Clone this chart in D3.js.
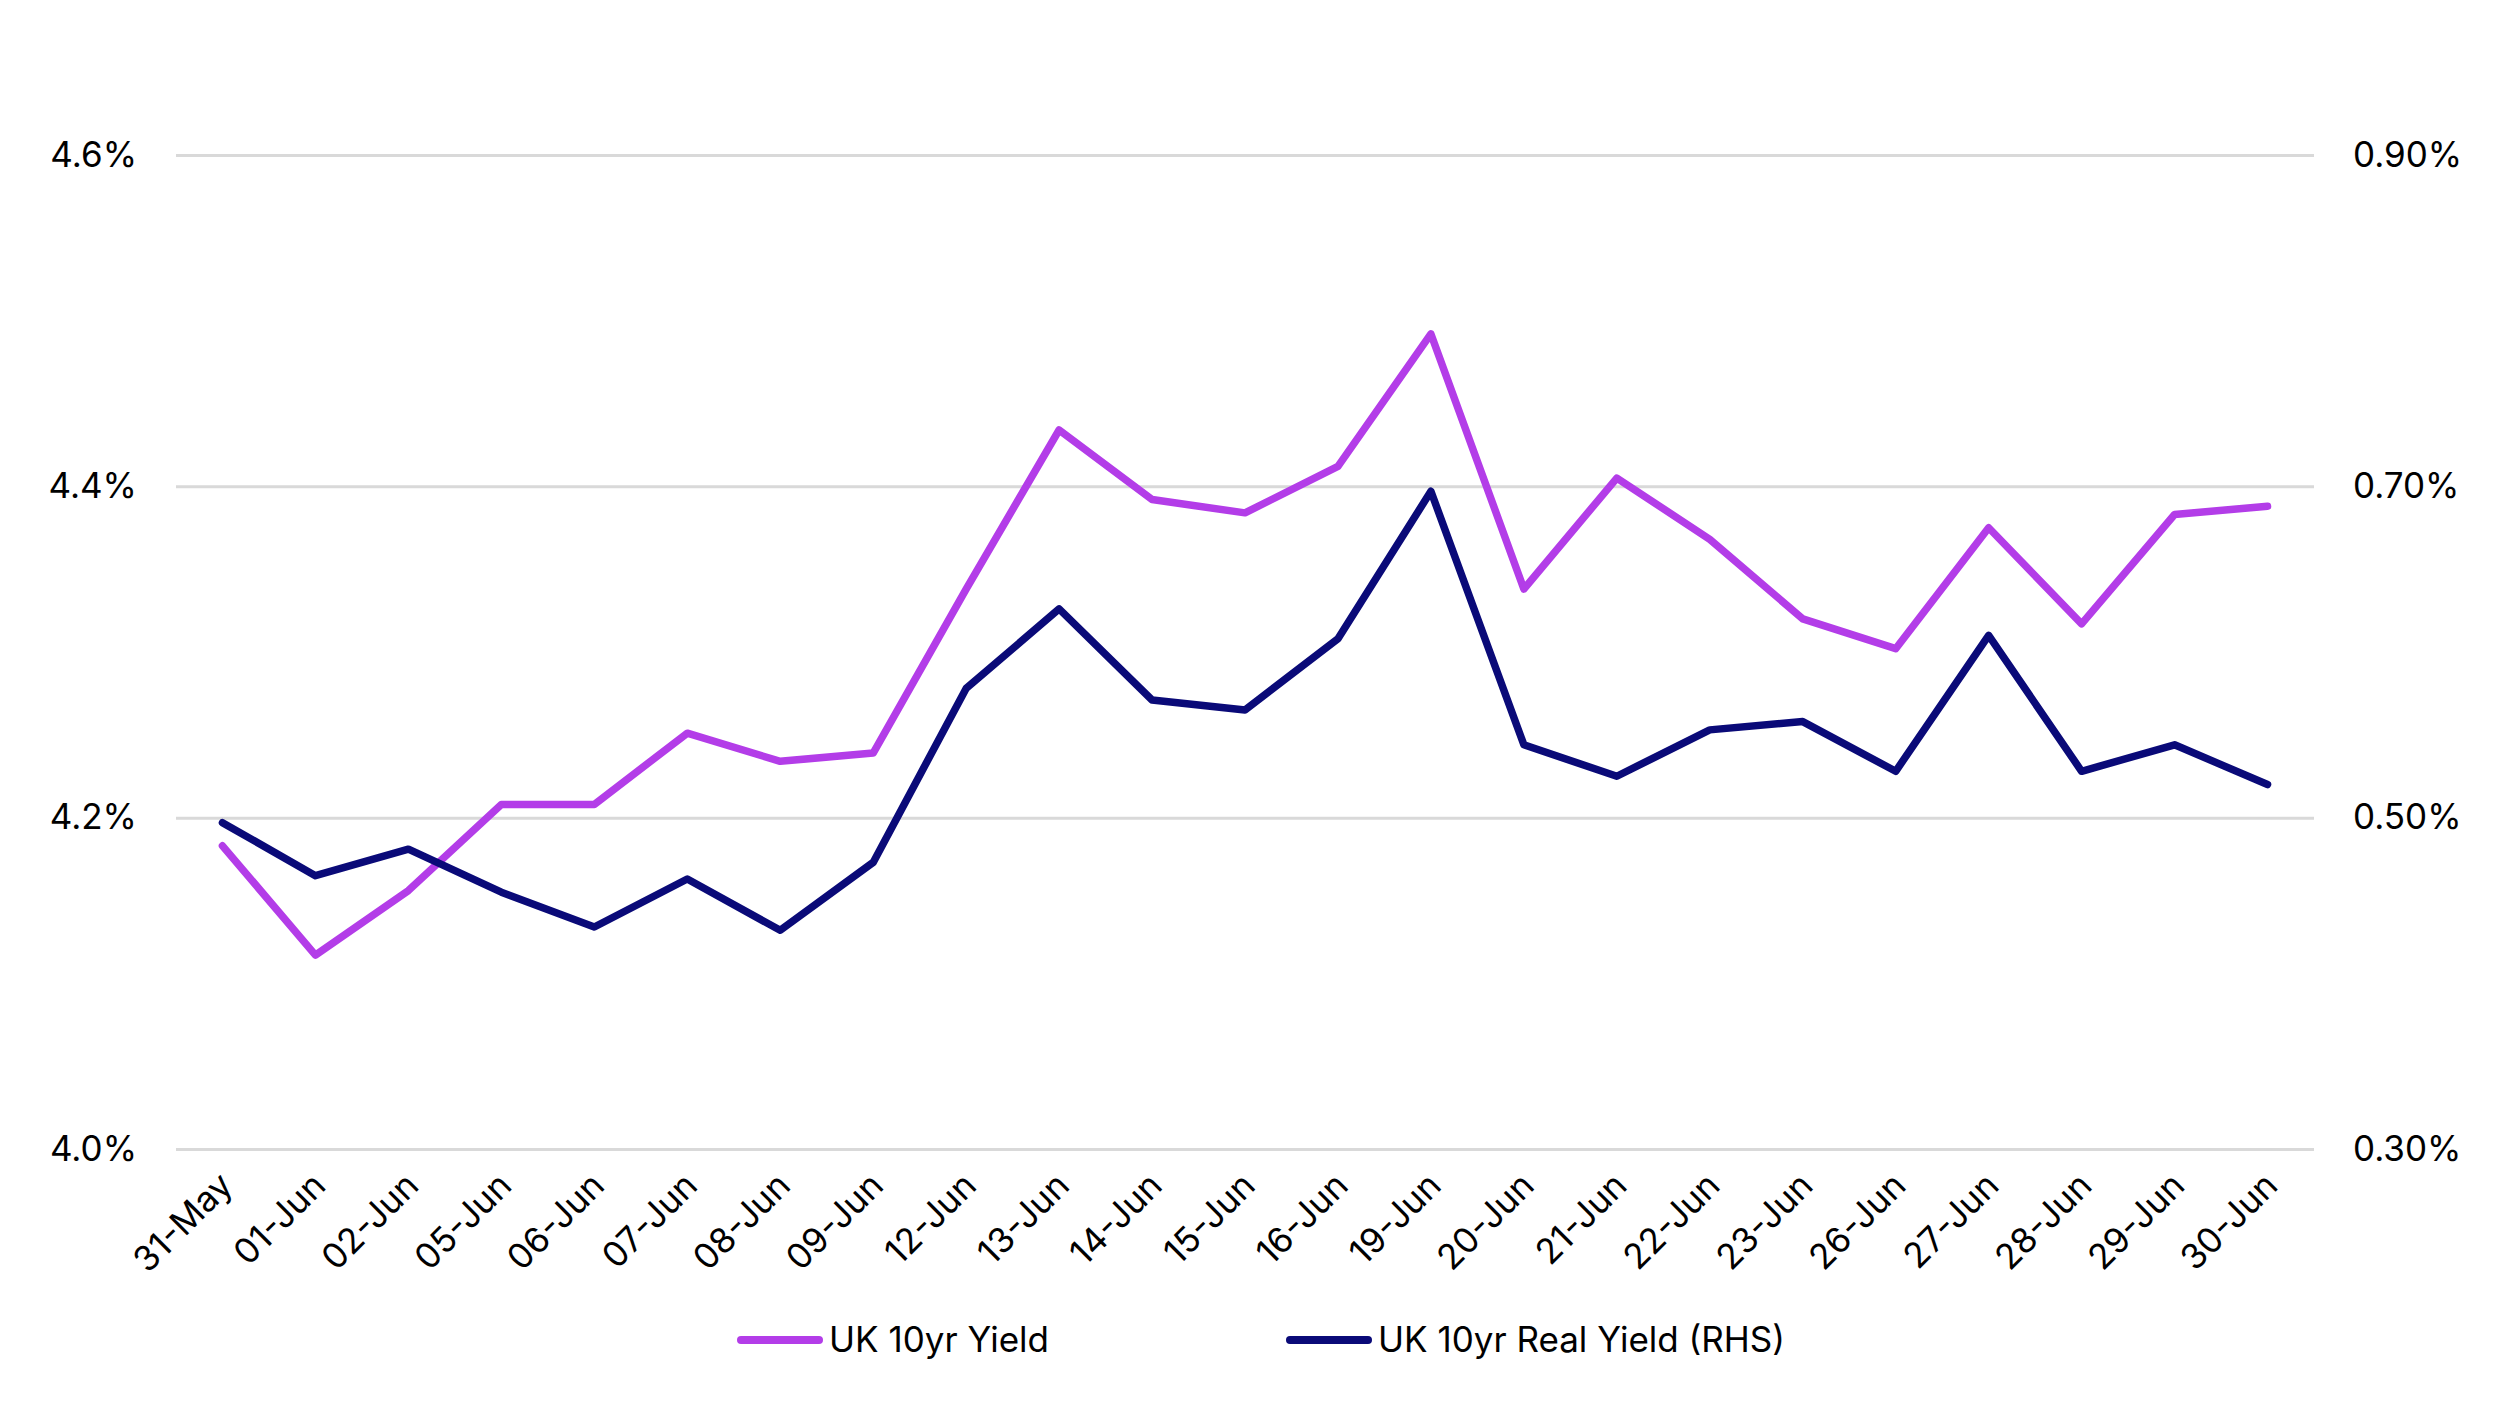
<!DOCTYPE html>
<html>
<head>
<meta charset="utf-8">
<script src="https://cdn.jsdelivr.net/npm/d3@7"></script>
<style>
  body { margin: 0; background: #fff; }
  text { font-family: Inter, "Noto Sans", sans-serif; fill: #000; }
</style>
</head>
<body>
<script>
// categorias (dias de cotizacion)
var fechas = ["31-May", "01-Jun", "02-Jun", "05-Jun", "06-Jun", "07-Jun", "08-Jun", "09-Jun",
  "12-Jun", "13-Jun", "14-Jun", "15-Jun", "16-Jun", "19-Jun", "20-Jun", "21-Jun", "22-Jun",
  "23-Jun", "26-Jun", "27-Jun", "28-Jun", "29-Jun", "30-Jun"]

// UK 10yr Yield (eje izquierdo, %)
var yieldNominal = [4.183, 4.117, 4.156, 4.208, 4.208, 4.251, 4.234, 4.239,
  4.338, 4.434, 4.392, 4.384, 4.412, 4.492, 4.338, 4.405, 4.368,
  4.320, 4.302, 4.375, 4.317, 4.383, 4.388]

// UK 10yr Real Yield (eje derecho, %)
var yieldReal = [0.497, 0.465, 0.481, 0.455, 0.434, 0.463, 0.432, 0.473,
  0.578, 0.626, 0.571, 0.565, 0.608, 0.697, 0.544, 0.525, 0.553,
  0.558, 0.528, 0.610, 0.528, 0.544, 0.520]

var ticksIzq = [4.0, 4.2, 4.4, 4.6]
var ticksDer = [0.30, 0.50, 0.70, 0.90]

var nombres = ["UK 10yr Yield", "UK 10yr Real Yield (RHS)"]
var colores = ["#b33de8", "#0a0a78"]

var width = 2496
var height = 1404
var margin = { top: 155, bottom: 255, left: 176, right: 182 }

var svg = d3.select("body").append("svg")
  .attr("width", width)
  .attr("height", height)

// escalas
var escalaX = d3.scalePoint()
  .domain(fechas)
  .range([margin.left, width - margin.right])
  .padding(0.5)

var escalaY = d3.scaleLinear()
  .domain([4.0, 4.6])
  .range([height - margin.bottom, margin.top])

var escalaY2 = d3.scaleLinear()
  .domain([0.30, 0.90])
  .range([height - margin.bottom, margin.top])

// rejilla + eje izquierdo
var ejeY = d3.axisLeft(escalaY)
  .tickValues(ticksIzq)
  .tickSize(-(width - margin.left - margin.right))
  .tickPadding(39)
  .tickFormat(d => d.toFixed(1) + "%")

svg.append("g")
  .attr("transform", "translate(" + margin.left + ",0)")
  .call(ejeY)
  .call(g => g.select(".domain").remove())
  .call(g => g.selectAll("line").attr("stroke", "#d9d9d9").attr("stroke-width", 3))
  .call(g => g.selectAll("text").attr("font-size", 35))

// eje derecho
var ejeY2 = d3.axisRight(escalaY2)
  .tickValues(ticksDer)
  .tickSize(0)
  .tickPadding(39)
  .tickFormat(d => d.toFixed(2) + "%")

svg.append("g")
  .attr("transform", "translate(" + (width - margin.right) + ",0)")
  .call(ejeY2)
  .call(g => g.select(".domain").remove())
  .call(g => g.selectAll("text").attr("font-size", 35))

// eje X
var ejeX = d3.axisBottom(escalaX).tickSize(0).tickPadding(0)

svg.append("g")
  .attr("transform", "translate(0," + (height - margin.bottom) + ")")
  .call(ejeX)
  .call(g => g.select(".domain").remove())
  .selectAll("text")
    .attr("font-size", 35)
    .attr("text-anchor", "end")
    .attr("dy", "0.35em")
    .attr("transform", "translate(3,30) rotate(-45)")

// lineas
var linea1 = d3.line()
  .x((d, i) => escalaX(fechas[i]))
  .y(d => escalaY(d))

var linea2 = d3.line()
  .x((d, i) => escalaX(fechas[i]))
  .y(d => escalaY2(d))

svg.append("path")
  .datum(yieldNominal)
  .attr("fill", "none")
  .attr("stroke", colores[0])
  .attr("stroke-width", 7.5)
  .attr("stroke-linejoin", "round")
  .attr("stroke-linecap", "round")
  .attr("d", linea1)

svg.append("path")
  .datum(yieldReal)
  .attr("fill", "none")
  .attr("stroke", colores[1])
  .attr("stroke-width", 7.5)
  .attr("stroke-linejoin", "round")
  .attr("stroke-linecap", "round")
  .attr("d", linea2)

// leyenda
var leyendaX = [741, 1290]
var leyenda = svg.append("g")
  .selectAll("g")
  .data(nombres)
  .enter()
  .append("g")
  .attr("transform", (d, i) => "translate(" + leyendaX[i] + ",1340)")

leyenda.append("line")
  .attr("x1", 0)
  .attr("x2", 78)
  .attr("stroke", (d, i) => colores[i])
  .attr("stroke-width", 8)
  .attr("stroke-linecap", "round")

leyenda.append("text")
  .attr("x", 88)
  .attr("dy", "0.35em")
  .attr("font-size", 35)
  .text(d => d)
</script>
</body>
</html>
